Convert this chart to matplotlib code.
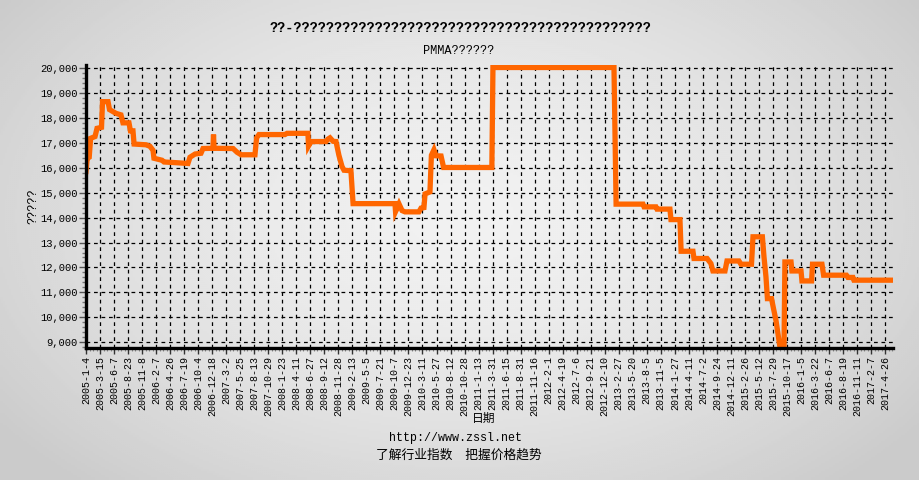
import numpy as np
import pandas as pd
import matplotlib
matplotlib.use("Agg")
import matplotlib.pyplot as plt
from matplotlib.ticker import MultipleLocator, FuncFormatter

# x-axis category labels (one every fixed number of trading days)
tick_labels = [
    "2005-1-4", "2005-3-15", "2005-6-7", "2005-8-23", "2005-11-8",
    "2006-2-7", "2006-4-26", "2006-7-19", "2006-10-4", "2006-12-18",
    "2007-3-2", "2007-5-25", "2007-8-13", "2007-10-29",
    "2008-1-23", "2008-4-11", "2008-6-27", "2008-9-12", "2008-11-28",
    "2009-2-13", "2009-5-5", "2009-7-21", "2009-10-7", "2009-12-23",
    "2010-3-11", "2010-5-27", "2010-8-12", "2010-10-28",
    "2011-1-13", "2011-3-31", "2011-6-15", "2011-8-31", "2011-11-16",
    "2012-2-1", "2012-4-19", "2012-7-6", "2012-9-21", "2012-12-10",
    "2013-2-27", "2013-5-20", "2013-8-5", "2013-11-5",
    "2014-1-27", "2014-4-11", "2014-7-2", "2014-9-24", "2014-12-11",
    "2015-2-26", "2015-5-12", "2015-7-29", "2015-10-17",
    "2016-1-5", "2016-3-22", "2016-6-7", "2016-8-19", "2016-11-11",
    "2017-2-7", "2017-4-26",
]

# PMMA price series (change points only)
price_dates = [
    "2005-01-04", "2005-01-10", "2005-01-20", "2005-01-27", "2005-02-18",
    "2005-02-28", "2005-03-24", "2005-03-30", "2005-05-02", "2005-05-11",
    "2005-06-01", "2005-06-18", "2005-07-15", "2005-07-26", "2005-08-28",
    "2005-09-05", "2005-09-19", "2005-09-25", "2005-12-03", "2005-12-29",
    "2006-01-18", "2006-01-24", "2006-03-12", "2006-03-23", "2006-06-06",
    "2006-08-09", "2006-08-20", "2006-09-17", "2006-10-19", "2006-10-30",
    "2006-12-22", "2006-12-25", "2006-12-28", "2007-04-12", "2007-05-06",
    "2007-05-30", "2007-08-17", "2007-08-26", "2007-09-08", "2008-02-07",
    "2008-02-19", "2008-06-14", "2008-06-17", "2008-07-01", "2008-09-21",
    "2008-10-02", "2008-10-13", "2008-10-30", "2008-11-15", "2008-12-01",
    "2008-12-18", "2008-12-29", "2009-02-05", "2009-02-17", "2009-10-10",
    "2009-10-13", "2009-11-01", "2009-11-18", "2009-12-04", "2010-02-19",
    "2010-03-03", "2010-03-19", "2010-03-25", "2010-04-21", "2010-04-29",
    "2010-05-13", "2010-05-24", "2010-06-21", "2010-07-05", "2011-03-27",
    "2011-04-02", "2013-01-31", "2013-02-06", "2013-02-12", "2013-07-15",
    "2013-07-21", "2013-10-04", "2013-10-11", "2013-12-29", "2014-01-04",
    "2014-02-23", "2014-03-01", "2014-05-05", "2014-05-11", "2014-07-27",
    "2014-08-19", "2014-08-31", "2014-11-08", "2014-11-19", "2015-01-24",
    "2015-02-04", "2015-04-02", "2015-04-10", "2015-05-31", "2015-06-09",
    "2015-06-20", "2015-06-28", "2015-07-21", "2015-08-01", "2015-08-15",
    "2015-09-07", "2015-09-30", "2015-10-05", "2015-11-09", "2015-11-14",
    "2016-01-05", "2016-01-10", "2016-03-03", "2016-03-08", "2016-04-29",
    "2016-05-08", "2016-09-08", "2016-09-17", "2016-10-17", "2016-10-23",
    "2017-06-03",
]
prices = [
    15850, 16370, 16420, 17180, 17250,
    17580, 17620, 18650, 18650, 18330,
    18250, 18180, 18120, 17800, 17800,
    17480, 17480, 16950, 16920, 16860,
    16700, 16380, 16300, 16230, 16200,
    16170, 16420, 16550, 16580, 16770,
    16780, 17330, 16780, 16770, 16620,
    16520, 16520, 17200, 17330, 17330,
    17380, 17380, 16870, 17050, 17050,
    17150, 17200, 17060, 17050, 16500,
    16050, 15900, 15880, 14560, 14560,
    14240, 14550, 14280, 14230, 14230,
    14380, 14400, 14950, 15030, 16500,
    16720, 16480, 16470, 16010, 16010,
    20020, 20020, 17300, 14540, 14540,
    14430, 14430, 14340, 14340, 13920,
    13920, 12650, 12650, 12360, 12360,
    12160, 11860, 11860, 12260, 12260,
    12130, 12130, 13230, 13230, 12420,
    11620, 10750, 10750, 10350, 9880,
    8800, 8800, 12220, 12220, 11860,
    11860, 11460, 11460, 12130, 12130,
    11690, 11690, 11600, 11600, 11490,
    11490,
]


def date_positions(days, ticks):
    """Map dates to category positions (linear between labelled dates)."""
    t = ticks.map(pd.Timestamp.toordinal).to_numpy(float)
    o = days.map(pd.Timestamp.toordinal).to_numpy(float)
    idx = np.arange(len(t), dtype=float)
    p = np.interp(o, t, idx)
    after = o > t[-1]
    p[after] = idx[-1] + (o[after] - t[-1]) / (t[-1] - t[-2])
    return p


tick_days = pd.to_datetime(tick_labels, format="%Y-%m-%d")
x = date_positions(pd.to_datetime(price_dates), tick_days)

mono = ["Liberation Mono", "Noto Sans CJK SC"]
cjk = ["Noto Sans CJK SC", "DejaVu Sans"]
plt.rcParams["font.family"] = mono

fig = plt.figure(figsize=(9.2, 4.8), dpi=100)

# soft gray radial background
bg = fig.add_axes([0, 0, 1, 1], zorder=-10)
yy, xx = np.mgrid[0:1:240j, 0:1:460j]
r = np.sqrt(((xx - 0.5) / 0.62) ** 2 + ((yy - 0.45) / 0.75) ** 2)
shade = 0.945 - 0.15 * np.clip(r, 0, 1) ** 1.6
bg.imshow(shade, cmap="gray", vmin=0, vmax=1, aspect="auto",
          extent=[0, 1, 0, 1], interpolation="bilinear")
bg.axis("off")

ax = fig.add_axes([86 / 920, 1 - 348 / 480, (893 - 86) / 920, (348 - 65) / 480])
ax.set_facecolor("none")

ax.plot(x, prices, color="#ff6600", lw=3.8, solid_joinstyle="miter", zorder=3)

ax.set_xlim(0, 57.56)
ax.set_ylim(8770, 20120)

ax.set_xticks(np.arange(len(tick_labels)))
ax.set_xticklabels(tick_labels, rotation=90, fontsize=7.2)
ax.xaxis.set_minor_locator(MultipleLocator(0.25))
ax.yaxis.set_major_locator(MultipleLocator(1000))
ax.yaxis.set_minor_locator(MultipleLocator(200))
ax.yaxis.set_major_formatter(FuncFormatter(lambda v, p: f"{int(v):,}"))
ax.tick_params(axis="y", which="major", length=5, width=1, color="#555555",
               labelsize=7.6, pad=1)
ax.tick_params(axis="y", which="minor", length=3, width=1, color="#777777")
ax.tick_params(axis="x", which="major", length=4, width=1, color="#333333",
               pad=2)
ax.tick_params(axis="x", which="minor", length=2, width=0.8, color="#888888")

ax.grid(True, which="major", color="black", linestyle=(0, (3, 3)), lw=0.9)

for side in ("top", "right"):
    ax.spines[side].set_visible(False)
for side in ("left", "bottom"):
    ax.spines[side].set_linewidth(2.4)
    ax.spines[side].set_color("black")
    ax.spines[side].set_zorder(4)

fig.text(460 / 920, 1 - 28.5 / 480, "??-" + "?" * 44, ha="center",
         va="center", fontsize=9.8, fontweight="bold")
fig.text(459 / 920, 1 - 50.5 / 480, "PMMA??????", ha="center", va="center",
         fontsize=8.6)
fig.text(33 / 920, 1 - 206.5 / 480, "?????", ha="center", va="center",
         rotation=90, fontsize=8.6)
fig.text(484 / 920, 1 - 418 / 480, "日期", ha="center", va="center",
         fontsize=8.5, family=cjk)
fig.text(456 / 920, 1 - 437.5 / 480, "http://www.zssl.net", ha="center",
         va="center", fontsize=8.4)
fig.text(459 / 920, 1 - 455 / 480, "了解行业指数\u3000把握价格趋势",
         ha="center", va="center", fontsize=9.2, family=cjk)

fig.savefig("out.png", dpi=100)
